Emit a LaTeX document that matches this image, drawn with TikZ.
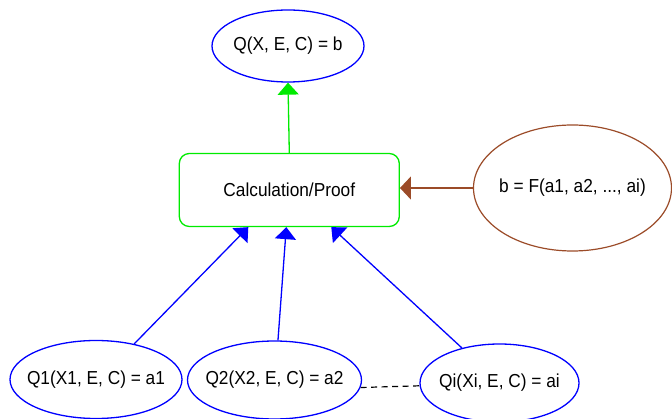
\documentclass[tikz,border=0pt]{standalone}
\usepackage{fontspec}
\setmainfont{Liberation Sans}[FakeStretch=0.92]
\usetikzlibrary{shapes.geometric,arrows.meta,calc}
\definecolor{qblue}{RGB}{0,0,255}
\definecolor{qgreen}{RGB}{0,235,0}
\definecolor{qbrown}{RGB}{155,75,40}
\begin{document}
\begin{tikzpicture}[x=1pt,y=-1pt,
  every node/.style={font=\fontsize{18.8}{20}\selectfont, text=black},
  ell/.style={ellipse, draw, line width=1.3pt, inner sep=0pt},
  blueell/.style={ell, draw=qblue},
  procbox/.style={rectangle, rounded corners=10pt, draw=qgreen, line width=1.3pt,
    minimum width=220pt, minimum height=73pt, inner sep=0pt},
  tri/.style={-{Triangle[length=12pt,width=21pt]}, line width=1.3pt}
]
\useasboundingbox (0,0) rectangle (672,419);
\node[blueell, minimum width=152pt, minimum height=72pt] (top) at (288,46) {\makebox[0pt]{Q(X, E, C) = b}};
\node[procbox] (box) at (289.3,190) {Calculation/Proof};
\node[ell, draw=qbrown, line width=1.2pt, minimum width=198pt, minimum height=126pt] (f) at (572.5,188) {\makebox[0pt]{b = F(a1, a2, ..., ai)}};
\node[blueell, minimum width=172pt, minimum height=78pt] (q1) at (96,379.5) {\makebox[0pt]{Q1(X1, E, C) = a1}};
\node[blueell, minimum width=174pt, minimum height=78pt] (q2) at (274.5,380) {\makebox[0pt]{Q2(X2, E, C) = a2}};
\node[blueell, minimum width=159pt, minimum height=78pt] (qi) at (499.5,383) {\makebox[0pt]{Qi(Xi, E, C) = ai}};

\draw[tri, qgreen] (box.north) -- (top.south);
\draw[-{Triangle[length=11pt,width=23pt]}, line width=1.3pt, qbrown] (f.west) -- (box.east |- f.west);
\draw[tri, qblue] (q1.43) -- ($(box.south)+(-41,0)$);
\draw[tri, qblue] (q2.85) -- ($(box.south)+(-3,0)$);
\draw[tri, qblue] (qi.137) -- ($(box.south)+(42,0)$);
\draw[black, line width=1.2pt, dash pattern=on 6pt off 4.5pt] (q2.-5) -- (qi.182);
\end{tikzpicture}
\end{document}
